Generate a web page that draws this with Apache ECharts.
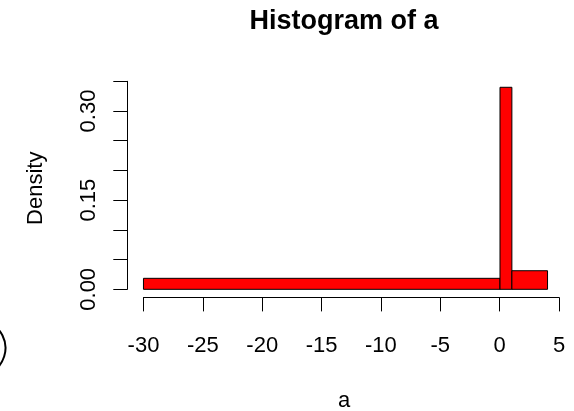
<!DOCTYPE html>
<html>
<head>
<meta charset="utf-8">
<script src="https://cdn.jsdelivr.net/npm/echarts@6/dist/echarts.min.js"></script>
<style>html,body{margin:0;padding:0;background:#fff;}#chart{width:574px;height:411px;}</style>
</head>
<body>
<div id="chart"></div>
<script>
// Histogram data (unequal breaks)
const breaks = [-30, 0, 1, 4];
const densities = [0.0185, 0.340, 0.0313];
// Axis ticks / labels
const xTickMin = -30, xTickMax = 5, xTickStep = 5;
const yTickMin = 0, yTickMax = 0.35, yTickStep = 0.05;
const yLabelValues = [0, 0.15, 0.30];
const yLabelTexts = ['0.00', '0.15', '0.30'];
const titleText = 'Histogram of a';
const xLabelText = 'a';
const yLabelText = 'Density';

const bins = densities.map((d, i) => [breaks[i], breaks[i + 1], d]);

// R-style 4% range extension
const xr = [breaks[0], breaks[breaks.length - 1]];
const xPad = (xr[1] - xr[0]) * 0.04;
const yMaxD = Math.max(...densities);
const yPad = yMaxD * 0.04;

const FONT = 'Liberation Sans, Arial, sans-serif';
const chart = echarts.init(document.getElementById('chart'), null, {renderer: 'canvas'});

chart.setOption({
  backgroundColor: '#ffffff',
  animation: false,
  grid: [
    {left: 127.3, right: 10.3, top: 79.2, bottom: 113.6},          // plot region
    {left: 143.5, width: 415.5, bottom: 113.6, height: 10},        // x axis
    {left: 127.3, width: 10, top: 81.3, height: 208}               // y axis
  ],
  xAxis: [
    {gridIndex: 0, type: 'value', min: xr[0] - xPad, max: xr[1] + xPad, show: false},
    {gridIndex: 1, type: 'value', min: xTickMin, max: xTickMax, interval: xTickStep,
      axisLine: {show: true, lineStyle: {color: '#000', width: 1}},
      axisTick: {show: true, inside: false, length: 14, lineStyle: {color: '#000', width: 1}},
      axisLabel: {show: true, margin: 38, fontSize: 22, fontFamily: FONT, color: '#000',
        showMinLabel: true, showMaxLabel: true, hideOverlap: false},
      splitLine: {show: false}},
    {gridIndex: 2, type: 'value', min: 0, max: 1, show: false}
  ],
  yAxis: [
    {gridIndex: 0, type: 'value', min: -yPad, max: yMaxD + yPad, show: false},
    {gridIndex: 1, type: 'value', min: 0, max: 1, show: false},
    {gridIndex: 2, type: 'value', min: yTickMin, max: yTickMax, interval: yTickStep,
      axisLine: {show: true, lineStyle: {color: '#000', width: 1}},
      axisTick: {show: true, inside: false, length: 14, lineStyle: {color: '#000', width: 1}},
      axisLabel: {show: true, rotate: 90, margin: 27, fontSize: 22, fontFamily: FONT, color: '#000',
        showMinLabel: true, showMaxLabel: true, hideOverlap: false,
        formatter: function (v) {
          for (let i = 0; i < yLabelValues.length; i++) {
            if (Math.abs(v - yLabelValues[i]) < 1e-9) return yLabelTexts[i];
          }
          return '';
        }},
      splitLine: {show: false}}
  ],
  series: [{
    type: 'custom',
    xAxisIndex: 0, yAxisIndex: 0,
    data: bins,
    renderItem: function (params, api) {
      const p0 = api.coord([api.value(0), api.value(2)]);
      const p1 = api.coord([api.value(1), 0]);
      return {
        type: 'rect',
        shape: {x: p0[0], y: p0[1], width: p1[0] - p0[0], height: p1[1] - p0[1]},
        style: {fill: '#ff0000', stroke: '#000', lineWidth: 1}
      };
    }
  }],
  graphic: [
    {type: 'text', x: 344, y: 22, style: {text: titleText, font: 'bold 27px ' + FONT, fill: '#000', textAlign: 'center', textVerticalAlign: 'middle'}},
    {type: 'text', x: 344, y: 401, style: {text: xLabelText, font: '22px ' + FONT, fill: '#000', textAlign: 'center', textVerticalAlign: 'middle'}},
    {type: 'text', x: 36, y: 188.3, rotation: Math.PI / 2, style: {text: yLabelText, font: '22px ' + FONT, fill: '#000', textAlign: 'center', textVerticalAlign: 'middle'}},
    {type: 'arc', shape: {cx: -22, cy: 348, r: 27.5, startAngle: -Math.PI / 2.5, endAngle: Math.PI / 2.5}, style: {stroke: '#000', lineWidth: 2, fill: null}}
  ]
});
</script>
</body>
</html>
